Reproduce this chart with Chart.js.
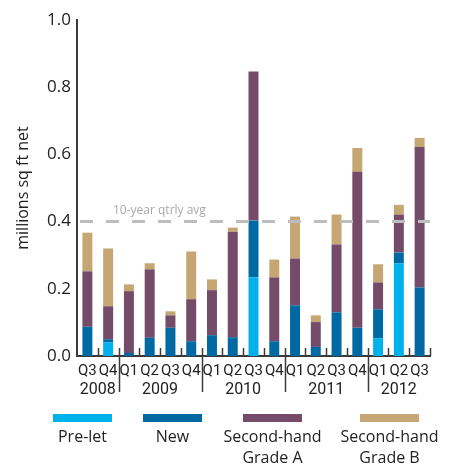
<!DOCTYPE html>
<html>
<head>
<meta charset="utf-8">
<script src="https://cdn.jsdelivr.net/npm/chart.js@4/dist/chart.umd.min.js"></script>
<style>
  html, body { margin:0; padding:0; background:#fff; }
  #wrap { position:relative; width:455px; height:466px; font-family:'Open Sans', sans-serif; color:#222; }
  canvas { position:absolute; left:0; top:0; }
  .sw { position:absolute; height:8px; width:59px; top:414px; }
  .lab { position:absolute; top:426px; width:130px; text-align:center; font-size:16px; line-height:21px; }
</style>
</head>
<body>
<div id="wrap">
  <canvas id="c" width="455" height="466"></canvas>
  <div id="legend"></div>
</div>
<script>
const categories = ['Q3','Q4','Q1','Q2','Q3','Q4','Q1','Q2','Q3','Q4','Q1','Q2','Q3','Q4','Q1','Q2','Q3'];
const years = ['2008','2009','2010','2011','2012'];
const quartersPerYear = [2,4,4,4,3];
const preLet    = [0,0.041,0,0,0,0,0,0,0.234,0,0,0,0,0,0.053,0.276,0];
const newBuild  = [0.087,0.009,0.009,0.054,0.084,0.044,0.062,0.056,0.169,0.044,0.151,0.027,0.130,0.084,0.086,0.032,0.204];
const secondA   = [0.165,0.098,0.184,0.204,0.037,0.125,0.134,0.314,0.444,0.190,0.139,0.074,0.202,0.464,0.080,0.113,0.418];
const secondB   = [0.115,0.172,0.020,0.018,0.012,0.142,0.032,0.012,0,0.053,0.125,0.020,0.089,0.071,0.054,0.029,0.027];
const seriesNames = ['Pre-let','New','Second-hand\nGrade A','Second-hand\nGrade B'];
const seriesColors = ['#00b1eb','#0069a3','#744b69','#c6a672'];
const avgValue = 0.4;
const avgLabel = '10-year qtrly avg';
const yTitle = 'millions sq ft net';

const axisColor = '#3a3a3a';
const FONT = "'Open Sans', sans-serif";
const NARROW = "Roboto, 'Open Sans', sans-serif";

const decor = {
  id: 'decor',
  afterDatasetsDraw(chart) {
    const {ctx, chartArea, scales:{y}} = chart;
    const py = y.getPixelForValue(avgValue);
    ctx.save();
    ctx.strokeStyle = '#bdbdbd';
    ctx.lineWidth = 3;
    ctx.setLineDash([13, 13]);
    ctx.beginPath();
    ctx.moveTo(chartArea.left + 3, py);
    ctx.lineTo(chartArea.right, py);
    ctx.stroke();
    ctx.setLineDash([]);
    ctx.fillStyle = '#a8a8a8';
    ctx.font = "12px " + FONT;
    ctx.textAlign = 'left';
    ctx.textBaseline = 'alphabetic';
    ctx.fillText(avgLabel, chartArea.left + 36, py - 8);
    ctx.restore();
  },
  afterDraw(chart) {
    const {ctx, chartArea, scales:{x}} = chart;
    const n = categories.length;
    const half = (x.getPixelForValue(1) - x.getPixelForValue(0)) / 2;
    const b = i => (i < n ? x.getPixelForValue(i) - half : x.getPixelForValue(n - 1) + half);
    const base = chartArea.bottom;
    ctx.save();
    ctx.strokeStyle = axisColor;
    ctx.lineWidth = 1.5;
    const dividers = new Set();
    let acc = 0;
    quartersPerYear.forEach((q, k) => { acc += q; if (k < quartersPerYear.length - 1) dividers.add(acc); });
    for (let i = 1; i <= n; i++) {
      const px = Math.round(b(i)) + 0.5;
      ctx.beginPath();
      ctx.moveTo(px, base - 8);
      ctx.lineTo(px, dividers.has(i) ? base + 36 : base);
      ctx.stroke();
    }
    ctx.fillStyle = '#222';
    ctx.font = "16px " + NARROW;
    ctx.textAlign = 'center';
    ctx.textBaseline = 'middle';
    let start = 0;
    years.forEach((yr, k) => {
      const end = start + quartersPerYear[k];
      ctx.fillText(yr, (b(start) + b(end)) / 2, base + 34);
      start = end;
    });
    ctx.restore();
  }
};

const datasets = [preLet, newBuild, secondA, secondB].map((d, i) => ({
  label: seriesNames[i],
  data: d,
  backgroundColor: seriesColors[i],
  borderWidth: 0,
  barPercentage: 0.48,
  categoryPercentage: 1.0
}));

new Chart(document.getElementById('c'), {
  type: 'bar',
  data: { labels: categories, datasets },
  options: {
    responsive: false,
    animation: false,
    layout: { padding: { left: 0, right: 25, top: 20, bottom: 0 } },
    plugins: { legend: { display: false }, tooltip: { enabled: false } },
    scales: {
      x: {
        stacked: true,
        grid: { display: false, drawTicks: false },
        border: { display: true, color: axisColor, width: 2 },
        ticks: { autoSkip: false, maxRotation: 0, minRotation: 0, padding: 6, color: '#222', font: { family: NARROW, size: 15 } },
        afterFit(s) { s.height = 110; }
      },
      y: {
        stacked: true,
        min: 0, max: 1,
        grid: { display: false, drawTicks: false },
        border: { display: true, color: axisColor, width: 2 },
        ticks: { stepSize: 0.2, padding: 6, color: '#222', font: { family: FONT, size: 17 }, callback: v => v.toFixed(1) },
        title: { display: true, text: yTitle, color: '#222', font: { family: FONT, size: 16 }, padding: { top: 14, bottom: 0 } },
        afterFit(s) { s.width = 77; }
      }
    }
  },
  plugins: [decor]
});

// HTML legend
const legendLeft = [53, 143, 243, 360];
const legend = document.getElementById('legend');
seriesNames.forEach((name, i) => {
  const sw = document.createElement('div');
  sw.className = 'sw';
  sw.style.left = legendLeft[i] + 'px';
  sw.style.background = seriesColors[i];
  legend.appendChild(sw);
  const lb = document.createElement('div');
  lb.className = 'lab';
  lb.style.left = (legendLeft[i] + 29.5 - 65) + 'px';
  lb.innerHTML = name.split('\n').join('<br>');
  legend.appendChild(lb);
});
</script>
</body>
</html>
